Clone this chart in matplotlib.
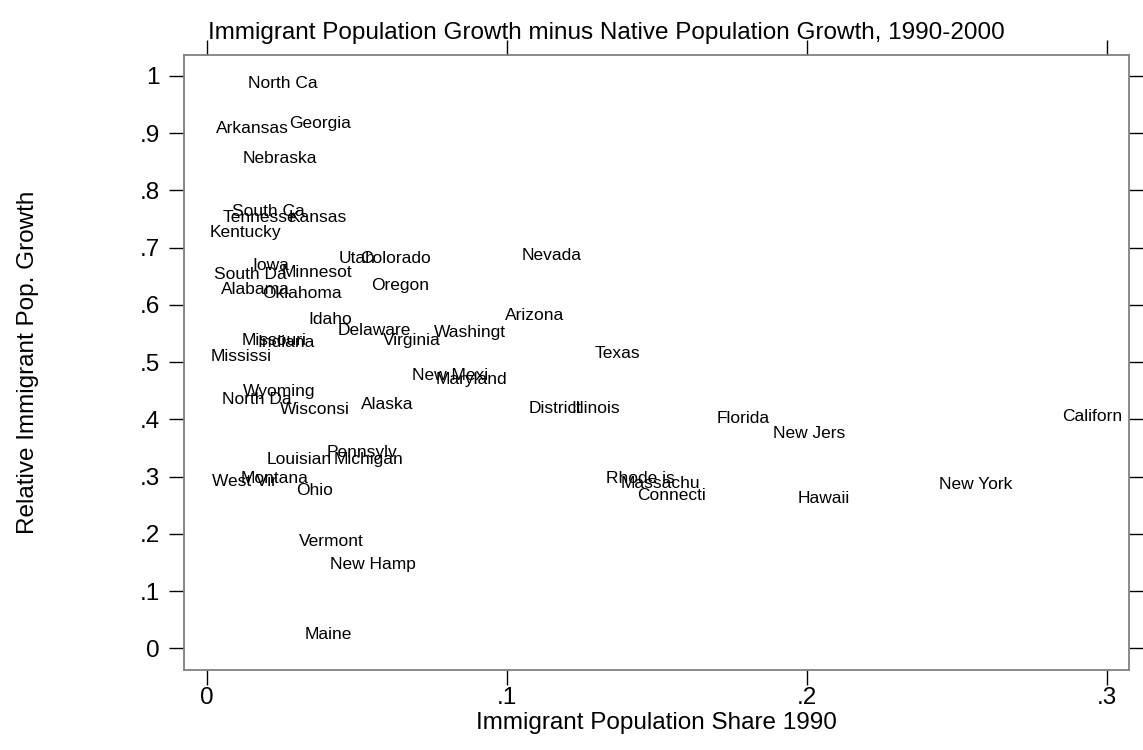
import matplotlib
matplotlib.use('Agg')
import matplotlib.pyplot as plt
from matplotlib.ticker import FixedLocator, FuncFormatter
from matplotlib.transforms import offset_copy

plt.rcParams['font.family'] = ['Liberation Sans', 'DejaVu Sans']

# state labels (Stata-style truncation to 8 chars)
states = ['North Ca', 'Arkansas', 'Georgia', 'Nebraska', 'South Ca', 'Tennesse',
          'Kansas', 'Kentucky', 'Utah', 'Colorado', 'Iowa', 'South Da',
          'Minnesot', 'Alabama', 'Oklahoma', 'Oregon', 'Nevada', 'Idaho',
          'Arizona', 'Delaware', 'Washingt', 'Virginia', 'Missouri', 'Indiana',
          'Mississi', 'Texas', 'New Mexi', 'Maryland', 'Wyoming', 'North Da',
          'Wisconsi', 'Alaska', 'District', 'Illinois', 'Florida', 'New Jers',
          'Californ', 'Pennsylv', 'Louisian', 'Michigan', 'Rhode is', 'Massachu',
          'Connecti', 'Montana', 'West Vir', 'Ohio', 'Hawaii', 'New York',
          'Vermont', 'New Hamp', 'Maine']

share90 = [0.0138, 0.0030, 0.0274, 0.0118, 0.0083, 0.0054,
           0.0271, 0.0008, 0.0438, 0.0511, 0.0153, 0.0024,
           0.0250, 0.0048, 0.0183, 0.0547, 0.1050, 0.0338,
           0.0994, 0.0437, 0.0758, 0.0587, 0.0117, 0.0167,
           0.0014, 0.1294, 0.0684, 0.0764, 0.0121, 0.0050,
           0.0244, 0.0514, 0.1071, 0.1214, 0.1698, 0.1888,
           0.2851, 0.0398, 0.0198, 0.0421, 0.1331, 0.1378,
           0.1434, 0.0114, 0.0018, 0.0297, 0.1968, 0.2441,
           0.0308, 0.0409, 0.0325]

rel_growth = [0.990, 0.911, 0.920, 0.859, 0.766, 0.755,
              0.755, 0.730, 0.684, 0.684, 0.672, 0.656,
              0.660, 0.630, 0.623, 0.637, 0.689, 0.578,
              0.584, 0.558, 0.555, 0.541, 0.541, 0.537,
              0.513, 0.518, 0.479, 0.472, 0.452, 0.438,
              0.421, 0.429, 0.422, 0.422, 0.404, 0.378,
              0.408, 0.346, 0.333, 0.333, 0.300, 0.291,
              0.270, 0.300, 0.294, 0.279, 0.265, 0.289,
              0.190, 0.149, 0.027]

xticks = [0, 0.1, 0.2, 0.3]
yticks = [0, 0.1, 0.2, 0.3, 0.4, 0.5, 0.6, 0.7, 0.8, 0.9, 1.0]

fig = plt.figure(figsize=(11.43, 7.5), dpi=100)
ax = fig.add_axes([0.161, 0.1067, 0.8268, 0.8196])

# labels sit slightly below centre in the Stata output
lab_tr = offset_copy(ax.transData, fig=fig, x=0, y=-1.2, units='points')
for name, xv, yv in zip(states, share90, rel_growth):
    ax.text(xv, yv, name, ha='left', va='center', fontsize=12.5,
            color='black', transform=lab_tr)

ax.set_xlim(-0.0076, 0.3074)
ax.set_ylim(-0.0376, 1.036)

def stata_fmt(v, pos):
    s = ('%.1f' % v).rstrip('0').rstrip('.')
    if s.startswith('0.'):
        s = s[1:]
    return s if s else '0'

ax.xaxis.set_major_locator(FixedLocator(xticks))
ax.yaxis.set_major_locator(FixedLocator(yticks))
ax.xaxis.set_major_formatter(FuncFormatter(stata_fmt))
ax.yaxis.set_major_formatter(FuncFormatter(stata_fmt))

ax.tick_params(axis='both', which='major', direction='out', length=10.5,
               width=1.0, color='black', labelsize=17.5, top=True, right=True)
ax.tick_params(axis='x', pad=2)
ax.tick_params(axis='y', pad=7)

for sp in ax.spines.values():
    sp.set_color('#808080')
    sp.set_linewidth(1.3)

ax.set_xlabel('Immigrant Population Share 1990', fontsize=17.5, labelpad=2)
ax.set_ylabel('Relative Immigrant Pop. Growth', fontsize=17.5, labelpad=0)
ax.yaxis.set_label_coords(-0.153, 0.5)
ax.set_title('Immigrant Population Growth minus Native Population Growth, 1990-2000',
             fontsize=17.5, pad=12, x=0.447)

fig.savefig('out.png', dpi=100)
